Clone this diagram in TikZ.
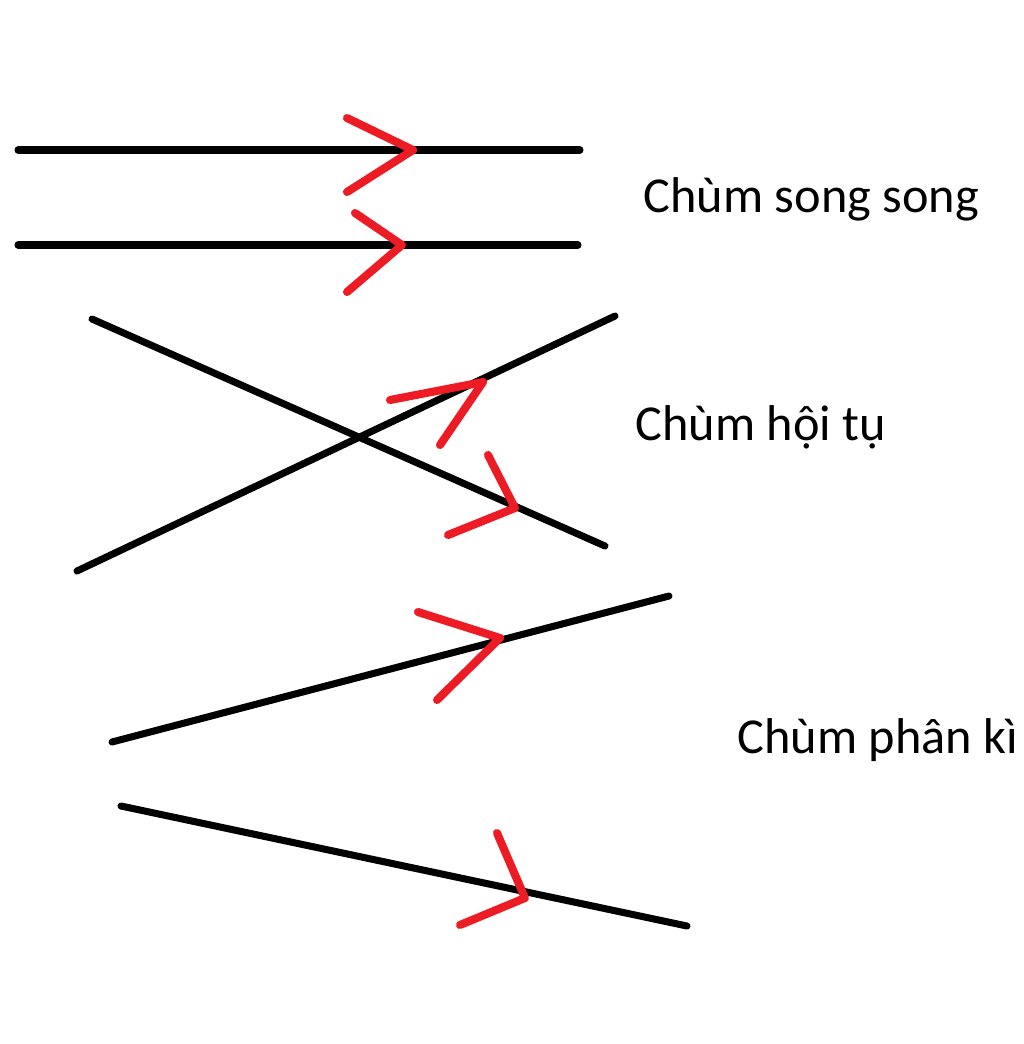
\documentclass[tikz,border=0pt]{standalone}
\usepackage{fontspec}
\setmainfont{Carlito}
\usetikzlibrary{calc}
\definecolor{paintred}{RGB}{237,28,36}
\tikzset{ray/.style={line width=2pt, line cap=round},
	tip/.style={paintred, line width=2.3pt, line cap=round, line join=round},
	lbl/.style={font=\fontsize{14.3}{17}\selectfont, inner sep=0pt}}

\begin{document}
\begin{tikzpicture}[x=0.01cm, y=-0.01cm]
		%%%%% START %%%%%
		\useasboundingbox (0, 0) rectangle (1024, 1044);
		
		% parallel
		\draw[ray] (18, 150) -- (580, 150);
		\draw[ray] (18, 245) -- (578, 245);
		\draw[tip] (347, 118) -- (413, 150) -- (347, 192);
		\draw[tip] (355, 213) -- (402, 245) -- (347, 292);
		\node[lbl, anchor=west] (par) at (643, 199) {Chùm song song};
		
		% converging
		\draw[ray] (92, 319) -- (605, 546);
		\draw[ray] (77, 571) -- (615, 316);
		\draw[tip] (390, 400) -- (483, 382) -- (440, 445);
		\draw[tip] (488, 455) -- (515, 508) -- (448, 535);
		\node[lbl, anchor=west] (conv) at (635, 427) {Chùm hội tụ};
		
		% diverging
		\draw[ray] (112, 742) -- (669, 596);
		\draw[ray] (121, 806) -- (687, 926);
		\draw[tip] (418, 612) -- (500, 638) -- (437, 700);
		\draw[tip] (497, 833) -- (525, 898) -- (460, 925);
		\node[lbl, anchor=west] (div) at (737, 740) {Chùm phân kì};
		%%%%% END %%%%%
\end{tikzpicture}
\end{document}
